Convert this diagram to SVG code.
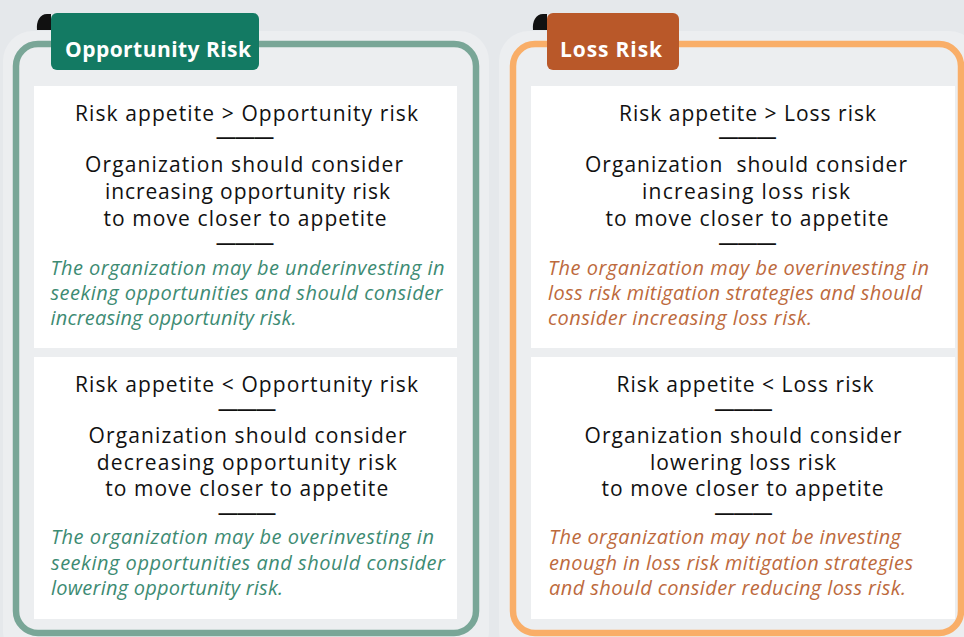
<svg xmlns="http://www.w3.org/2000/svg" width="964" height="637" viewBox="0 0 964 637">
<style>
.h{font-family:"Open Sans","Liberation Sans",sans-serif;font-size:21px;fill:#111;text-anchor:middle}
.d{font-family:"Liberation Sans",Arial,sans-serif;font-weight:bold;font-size:19px;fill:#111;text-anchor:middle}
.ig{font-family:"Open Sans","Liberation Sans",sans-serif;font-style:italic;font-size:20px;fill:#3d8b73}
.io{font-family:"Open Sans","Liberation Sans",sans-serif;font-style:italic;font-size:20px;fill:#bd6a3d}
.tab{font-family:"Open Sans","Liberation Sans",sans-serif;font-weight:bold;font-size:21px;fill:#fff}
.box{fill:#fff}
.halo{fill:#eceef0}
</style>
<rect width="964" height="637" fill="#e5e8eb"/>
<g id="opportunity">
  <rect class="halo" x="3" y="31" width="486" height="630" rx="30"/>
  <rect x="16" y="44" width="460" height="589" rx="22" fill="none" stroke="#79a697" stroke-width="6.5"/>
  <path d="M51,30 L37,30 C36,21 40,14 47,14 L51,14 Z" fill="#111"/>
  <rect x="51" y="13" width="208" height="57" rx="6" fill="#137a63"/>
  <text class="tab" x="65" y="57" textLength="186">Opportunity Risk</text>
</g>
<g id="opp-high">
  <rect class="box" x="34" y="86" width="423" height="262"/>
  <text class="h" x="246.5" y="121" textLength="343">Risk appetite &gt; Opportunity risk</text>
  <text class="d" x="245" y="142.5">———</text>
  <text class="h" x="244" y="172" textLength="318">Organization should consider</text>
  <text class="h" x="247.5" y="199" textLength="285">increasing opportunity risk</text>
  <text class="h" x="245" y="226" textLength="283">to move closer to appetite</text>
  <text class="d" x="245" y="248.5">———</text>
  <text class="ig" x="50.5" y="275" textLength="394">The organization may be underinvesting in</text>
  <text class="ig" x="50.5" y="300" textLength="392">seeking opportunities and should consider</text>
  <text class="ig" x="50.5" y="325" textLength="246">increasing opportunity risk.</text>
</g>
<g id="opp-low">
  <rect class="box" x="34" y="357" width="423" height="262"/>
  <text class="h" x="246.5" y="392" textLength="343">Risk appetite &lt; Opportunity risk</text>
  <text class="d" x="247" y="414.5">———</text>
  <text class="h" x="247.5" y="443" textLength="318">Organization should consider</text>
  <text class="h" x="246.7" y="469.5" textLength="300">decreasing opportunity risk</text>
  <text class="h" x="246.7" y="496" textLength="283">to move closer to appetite</text>
  <text class="d" x="247" y="518.5">———</text>
  <text class="ig" x="51" y="544" textLength="383">The organization may be overinvesting in</text>
  <text class="ig" x="51" y="570" textLength="394">seeking opportunities and should consider</text>
  <text class="ig" x="51" y="595" textLength="232">lowering opportunity risk.</text>
</g>
<g id="loss">
  <rect class="halo" x="499" y="31" width="480" height="630" rx="30"/>
  <rect x="513" y="44" width="448" height="589" rx="22" fill="none" stroke="#f9ae68" stroke-width="6.5"/>
  <path d="M547,30 L533,30 C532,21 536,14 543,14 L547,14 Z" fill="#111"/>
  <rect x="547" y="13" width="132" height="57" rx="6" fill="#b95829"/>
  <text class="tab" x="560" y="57" textLength="102">Loss Risk</text>
</g>
<g id="loss-high">
  <rect class="box" x="531" y="86" width="424" height="262"/>
  <text class="h" x="747.5" y="121" textLength="257">Risk appetite &gt; Loss risk</text>
  <text class="d" x="747.5" y="142.5">———</text>
  <text class="h" x="746" y="172" textLength="322" style="white-space:pre">Organization  should consider</text>
  <text class="h" x="746" y="199" textLength="208">increasing loss risk</text>
  <text class="h" x="747" y="226" textLength="283">to move closer to appetite</text>
  <text class="d" x="747.5" y="248.5">———</text>
  <text class="io" x="548" y="275" textLength="381">The organization may be overinvesting in</text>
  <text class="io" x="548" y="300" textLength="374">loss risk mitigation strategies and should</text>
  <text class="io" x="548" y="325" textLength="264">consider increasing loss risk.</text>
</g>
<g id="loss-low">
  <rect class="box" x="531" y="357" width="424" height="262"/>
  <text class="h" x="745" y="392" textLength="257">Risk appetite &lt; Loss risk</text>
  <text class="d" x="743.5" y="414.5">———</text>
  <text class="h" x="743" y="443" textLength="317">Organization should consider</text>
  <text class="h" x="743" y="469.5" textLength="186">lowering loss risk</text>
  <text class="h" x="742.5" y="496" textLength="282">to move closer to appetite</text>
  <text class="d" x="743.5" y="518.5">———</text>
  <text class="io" x="549" y="544" textLength="352">The organization may not be investing</text>
  <text class="io" x="549" y="570" textLength="364">enough in loss risk mitigation strategies</text>
  <text class="io" x="549" y="595" textLength="357">and should consider reducing loss risk.</text>
</g>
<g id="connectors"/>
</svg>
